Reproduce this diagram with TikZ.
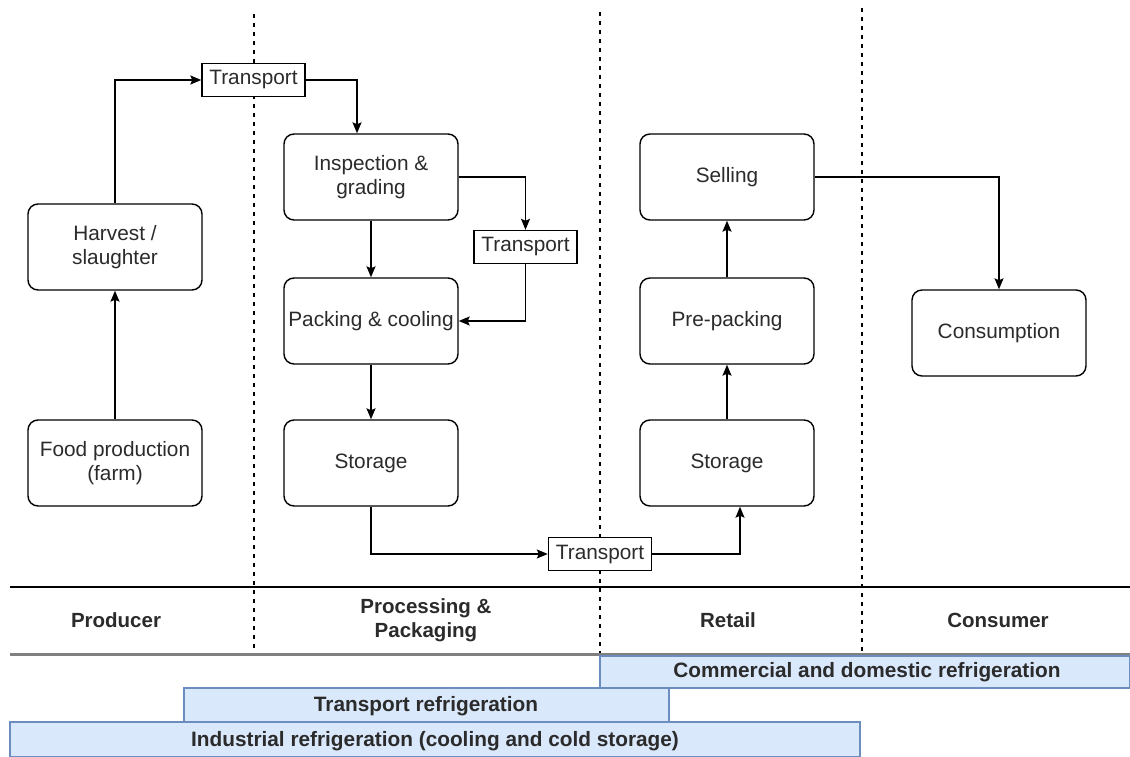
\documentclass[tikz,border=0pt]{standalone}
\usepackage{fontspec}
\setmainfont{Liberation Sans}
\usetikzlibrary{arrows.meta}
\definecolor{bandfill}{HTML}{DAE8FC}
\definecolor{banddraw}{HTML}{6C8EBF}
\definecolor{txt}{HTML}{2B2B2B}
\begin{document}
\begin{tikzpicture}[x=1pt,y=-1pt,
  every node/.style={font=\fontsize{20.8}{23.5}\selectfont, text=txt},
  stage/.style={draw=black, line width=1.4pt, rounded corners=10pt, fill=white,
    minimum width=174pt, minimum height=86pt, align=center, inner sep=2pt},
  move/.style={draw=black, line width=1.4pt, fill=white, minimum height=33pt,
    minimum width=103pt, inner xsep=2pt, inner ysep=2pt},
  flow/.style={line width=1.4pt, draw=black, -{Stealth[length=11pt,width=9pt,inset=2pt]}},
  divider/.style={line width=1.2pt, dash pattern=on 4pt off 5pt},
  phase/.style={font=\fontsize{20.5}{24}\selectfont\bfseries, align=center},
  band/.style={draw=banddraw, fill=bandfill, line width=1.2pt},
  bandlabel/.style={font=\fontsize{20.8}{23}\selectfont\bfseries}]
\useasboundingbox (0,0) rectangle (1130,757);

% phase dividers
\draw[divider] (254,14) -- (254,654);
\draw[divider] (600,12) -- (600,654);
\draw[divider] (862,8) -- (862,654);

% phase header lines
\draw[line width=1.5pt] (10,587) -- (1130,587);
\draw[line width=3pt, draw=black!50] (10,654.5) -- (1130,654.5);

% phase labels
\node[phase] (lprod) at (116,620) {Producer};
\node[phase] (lproc) at (426,620) {Processing \&\\Packaging};
\node[phase] (lret) at (728,620) {Retail};
\node[phase] (lcons) at (998,620) {Consumer};

% refrigeration bands
\draw[band] (600,656) rectangle (1130,688);
\node[bandlabel] (bcom) at (867,672) {Commercial and domestic refrigeration};
\draw[band] (184,688) rectangle (669,722);
\node[bandlabel] (btra) at (426,706) {Transport refrigeration};
\draw[band] (10,722) rectangle (860,757);
\node[bandlabel] (bind) at (435,741) {Industrial refrigeration (cooling and cold storage)};

% process stages
\node[stage] (harvest) at (115,247) {Harvest /\\slaughter};
\node[stage] (farm) at (115,463) {Food production\\(farm)};
\node[stage] (insp) at (371,177) {Inspection \&\\grading};
\node[stage] (pack) at (371,321) {Packing \& cooling};
\node[stage] (pstore) at (371,463) {Storage};
\node[stage] (sell) at (727,177) {Selling};
\node[stage] (prepack) at (727,321) {Pre-packing};
\node[stage] (rstore) at (727,463) {Storage};
\node[stage] (consume) at (999,333) {Consumption};

% transport steps
\node[move] (t1) at (253.5,80) {Transport};
\node[move] (t2) at (525.5,247) {Transport};
\node[move] (t3) at (600,554) {Transport};

% flows
\draw[flow] (farm) -- (harvest);
\draw[flow] (harvest.north) |- (t1.west);
\draw[flow] (t1.east) -| ([xshift=-14pt]insp.north);
\draw[flow] (insp.east) -| (t2.north);
\draw[flow] (insp) -- (pack);
\draw[flow] (t2.south) |- (pack.east);
\draw[flow] (pack) -- (pstore);
\draw[flow] (pstore.south) |- (t3.west);
\draw[flow] (t3.east) -| ([xshift=13pt]rstore.south);
\draw[flow] (rstore) -- (prepack);
\draw[flow] (prepack) -- (sell);
\draw[flow] (sell.east) -| (consume.north);
\end{tikzpicture}
\end{document}
